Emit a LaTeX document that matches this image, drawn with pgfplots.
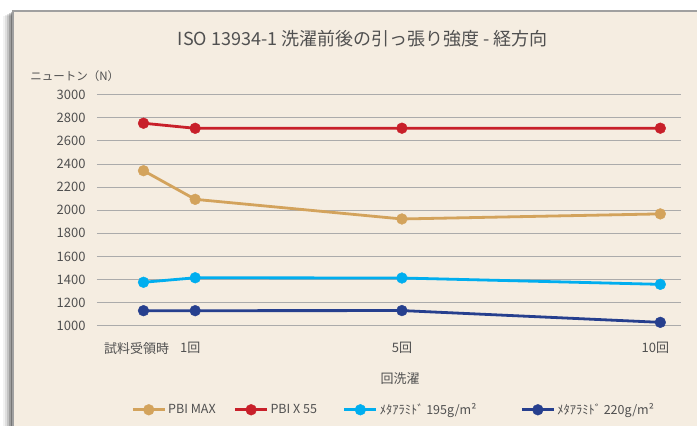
\documentclass[border=0pt]{standalone}
\usepackage{fontspec}
\setmainfont{Noto Sans CJK JP}
\usepackage{pgfplots}
\pgfplotsset{compat=1.18}
\definecolor{bgbeige}{HTML}{F5EDE1}
\definecolor{framegray}{HTML}{A0A0A0}
\definecolor{txtgray}{HTML}{505050}
\definecolor{gridgray}{HTML}{ABABAB}
\definecolor{pbimax}{HTML}{D3A35C}
\definecolor{pbix}{HTML}{C8202A}
\definecolor{meta195}{HTML}{00AEEF}
\definecolor{meta220}{HTML}{263F8E}

\begin{document}
\begin{tikzpicture}[x=1pt,y=1pt]
% page and frame
\useasboundingbox (0,0) rectangle (697,426);
\fill[white] (0,0) rectangle (697,426);
\foreach \d/\o in {10/0.05,8/0.08,6/0.12,4/0.18,2/0.25}
  \fill[black,opacity=\o] (13-\d,0) rectangle (14,415-\d/2);
\fill[bgbeige] (13,0) rectangle (697,415);
\draw[framegray,line width=1.8pt] (13,-2) -- (13,415) -- (699,415);

\begin{axis}[
    at={(97pt,100.3pt)}, anchor=south west,
    scale only axis, width=584pt, height=231pt,
    xmin=-0.9, xmax=10.4, ymin=1000, ymax=3000,
    xtick={0,1,5,10},
    xticklabels={試料受領時\hspace*{4pt}, 1回, \hspace*{10pt}5回, 10回},
    ytick={1000,1200,...,3000},
    ymajorgrids, major grid style={gridgray, line width=0.9pt},
    axis line style={draw=none}, major tick length=0pt,
    tick label style={font=\fontsize{13}{15}\selectfont, text=txtgray},
    /pgf/number format/assume math mode=true,
    /pgf/number format/set thousands separator={},
    yticklabel style={xshift=-8pt},
    xticklabel style={yshift=-13pt, xshift=-5pt},
    title={ISO 13934-1 洗濯前後の引っ張り強度 - 経方向},
    title style={font=\fontsize{18}{21}\selectfont, text=txtgray,
        at={(axis description cs:0.455,1.215)}, anchor=center},
    xlabel={回洗濯},
    xlabel style={font=\fontsize{13}{15}\selectfont, text=txtgray,
        at={(axis description cs:0.519,-0.229)}, anchor=center},
    ylabel={ニュートン（N）},
    ylabel style={font=\fontsize{11.5}{13}\selectfont, text=txtgray, rotate=-90,
        at={(axis description cs:-0.038,1.08)}, anchor=center},
    every axis plot/.append style={line width=2.8pt, mark=*, mark size=5.4pt,
        mark options={line width=0.4pt}},
    legend columns=4,
    legend style={draw=none, fill=none, font=\fontsize{12.5}{14}\selectfont,
        text=txtgray, at={(axis description cs:0.508,-0.364)}, anchor=center,
        /tikz/column 2/.style={column sep=16pt},
        /tikz/column 4/.style={column sep=24pt},
        /tikz/column 6/.style={column sep=42pt}},
    legend image code/.code={
        \draw[mark repeat=2,mark phase=2,#1] plot coordinates {(0pt,0pt) (16pt,0pt) (32pt,0pt)};},
]
\addplot[color=pbimax] coordinates {(0,2342) (1,2094) (5,1924) (10,1968)};
\addlegendentry{PBI MAX}
\addplot[color=pbix] coordinates {(0,2753) (1,2709) (5,2710) (10,2710)};
\addlegendentry{PBI X 55}
\addplot[color=meta195] coordinates {(0,1376) (1,1415) (5,1413) (10,1358)};
\addlegendentry{ﾒﾀｱﾗﾐﾄﾞ 195g/m²}
\addplot[color=meta220] coordinates {(0,1130) (1,1130) (5,1131) (10,1029)};
\addlegendentry{ﾒﾀｱﾗﾐﾄﾞ 220g/m²}
\end{axis}
\end{tikzpicture}
\end{document}
